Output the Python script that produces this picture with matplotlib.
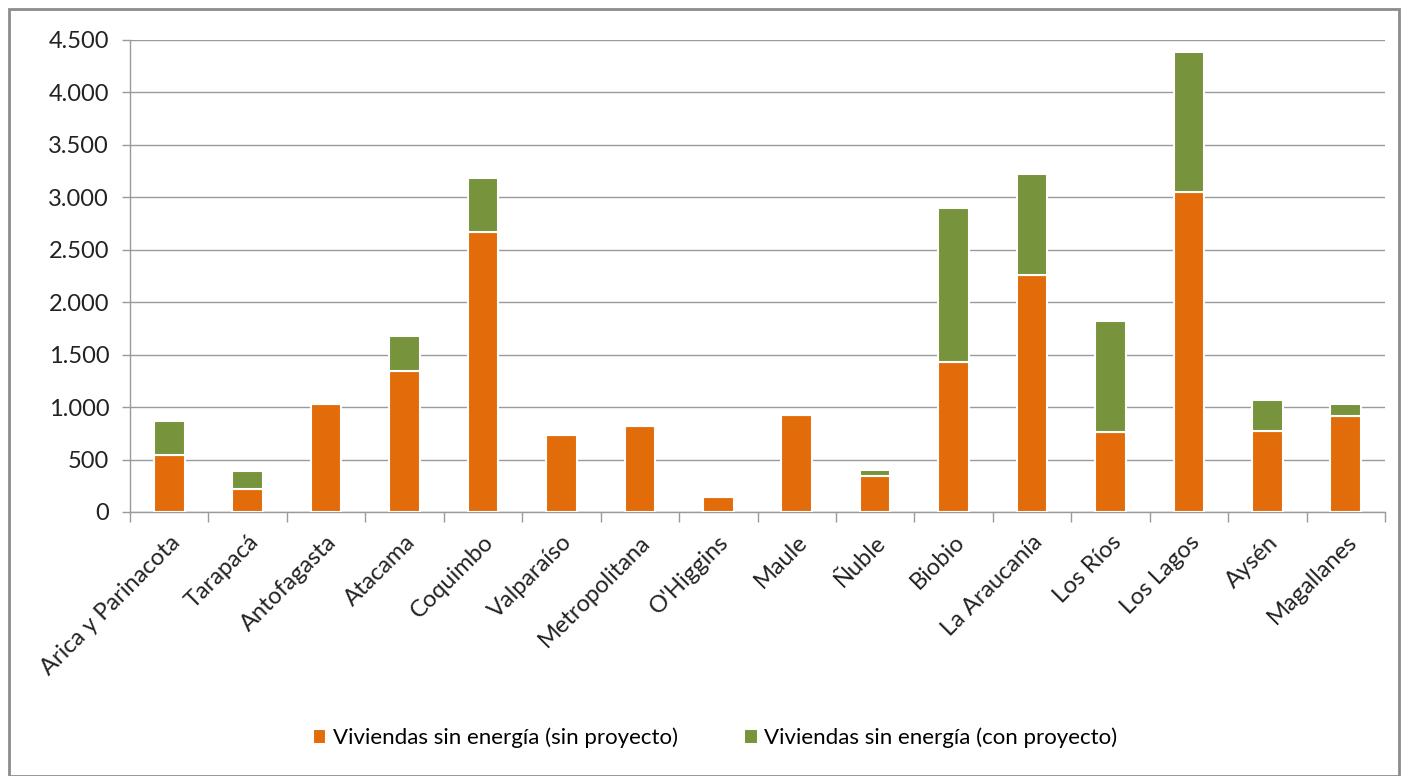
import numpy as np
import matplotlib.pyplot as plt
from matplotlib.ticker import FuncFormatter, FixedLocator
from matplotlib.patches import Rectangle

plt.rcParams['font.family'] = ['Lato', 'DejaVu Sans']

regiones = ["Arica y Parinacota", "Tarapacá", "Antofagasta", "Atacama", "Coquimbo",
            "Valparaíso", "Metropolitana", "O'Higgins", "Maule", "Ñuble", "Biobio",
            "La Araucanía", "Los Ríos", "Los Lagos", "Aysén", "Magallanes"]
sin_proyecto = [540, 220, 1025, 1340, 2670, 733, 821, 146, 923, 345, 1430, 2255, 760, 3050, 775, 920]
con_proyecto = [330, 170, 0, 340, 510, 0, 0, 0, 0, 55, 1465, 970, 1060, 1340, 290, 105]

naranja = '#E36C0A'
verde = '#77933C'
gris = '#9A9A9A'

fig = plt.figure(figsize=(14.02, 7.76), dpi=100)
ax = fig.add_axes([130 / 1402, 1 - 512 / 776, (1385 - 130) / 1402, (512 - 40) / 776])

x = np.arange(len(regiones))
w = 0.39
ax.bar(x, sin_proyecto, w, color=naranja, edgecolor='white', linewidth=1.5,
       label='Viviendas sin energía (sin proyecto)', zorder=3)
ax.bar(x, con_proyecto, w, bottom=sin_proyecto, color=verde, edgecolor='white', linewidth=1.5,
       label='Viviendas sin energía (con proyecto)', zorder=3)

ax.set_xlim(-0.5, len(regiones) - 0.5)
ax.set_ylim(0, 4500)
ax.set_yticks(np.arange(0, 4501, 500))
ax.yaxis.set_major_formatter(FuncFormatter(lambda v, p: f'{int(v):,}'.replace(',', '.')))
ax.grid(axis='y', color=gris, linewidth=1, zorder=0)

ax.set_xticks(x)
ax.set_xticklabels(regiones, rotation=45, ha='right', rotation_mode='anchor', fontsize=17)
ax.xaxis.set_minor_locator(FixedLocator(np.arange(-0.5, len(regiones), 1)))
ax.tick_params(axis='x', which='major', length=0, pad=14)
ax.tick_params(axis='x', which='minor', length=7, color=gris, width=1)
ax.tick_params(axis='y', length=6, color=gris, width=1, labelsize=17, pad=9, labelcolor='#222222')
ax.tick_params(axis='x', labelcolor='#222222')

for s in ['top', 'right']:
    ax.spines[s].set_visible(False)
for s in ['left', 'bottom']:
    ax.spines[s].set_color(gris)
    ax.spines[s].set_linewidth(1)

fig.legend(loc='center', bbox_to_anchor=(0.51, 1 - 738 / 776), ncol=2, frameon=False,
           fontsize=16, handlelength=0.6, handleheight=0.6, handletextpad=0.3, columnspacing=3.0)

fig.patches.append(Rectangle((9 / 1402, 0), 1390 / 1402, 1 - 9 / 776, transform=fig.transFigure,
                             fill=False, edgecolor='#8C8C8C', linewidth=2))

fig.savefig('out.png', dpi=100)
